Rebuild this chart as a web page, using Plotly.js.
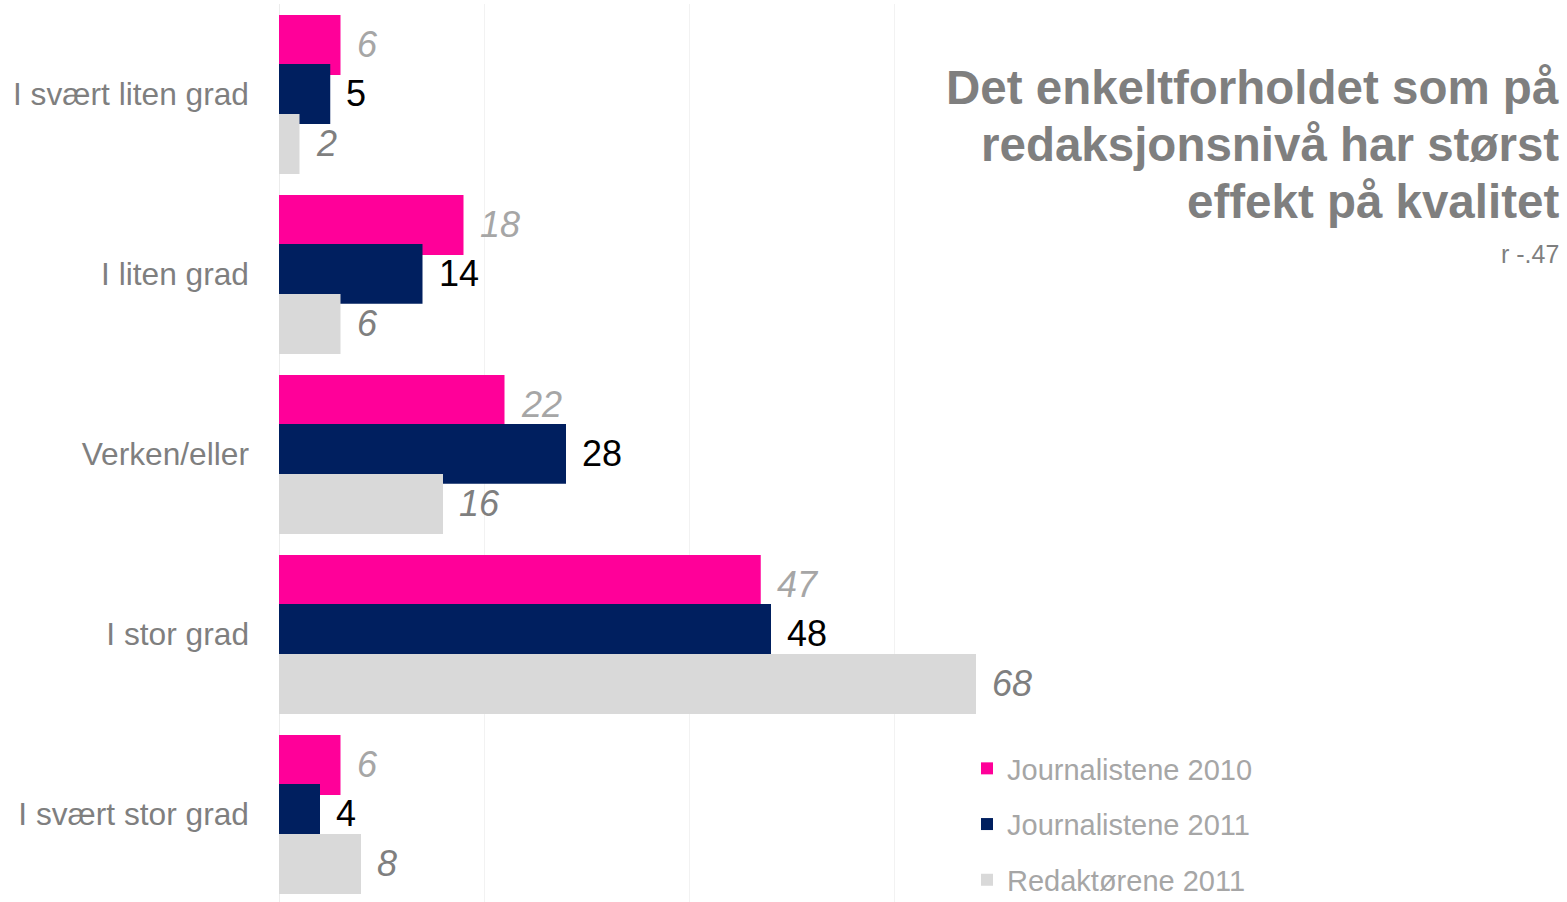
<!DOCTYPE html>
<html>
<head>
<meta charset="utf-8">
<script src="https://cdn.plot.ly/plotly-3.0.1.min.js"></script>
<style>
html,body{margin:0;padding:0;background:#fff;}
#chart{width:1567px;height:902px;}
</style>
</head>
<body>
<div id="chart"></div>
<script>
var categories = ["I svært liten grad", "I liten grad", "Verken/eller", "I stor grad", "I svært stor grad"];
var seriesNames = ["Journalistene 2010", "Journalistene 2011", "Redaktørene 2011"];
var journalister2010 = [6, 18, 22, 47, 6];
var journalister2011 = [5, 14, 28, 48, 4];
var redaktorer2011 = [2, 6, 16, 68, 8];
var titleLines = ["Det enkeltforholdet som på", "redaksjonsnivå har størst", "effekt på kvalitet"];
var subText = "r -.47";

var FONT = "Liberation Sans, Arial, sans-serif";
var seriesValues = [journalister2010, journalister2011, redaktorer2011];
var colors = ["#ff0099", "#001f5f", "#d9d9d9"];
var barWidth = 0.333;
var offsets = [-0.439, -0.167, 0.111];
var labelStyles = [
  {color: "#a6a6a6", style: "italic"},
  {color: "#000000", style: "normal"},
  {color: "#7f7f7f", style: "italic"}
];

var plotTop = 4, plotH = 898, plotL = 279, plotW = 820;
function py(px){ return 1 - (px - plotTop) / plotH; }
function pxX(px){ return (px - plotL) / plotW; }

var catIdx = categories.map(function(_, i){ return i; });
var traces = [];
var annotations = [];
seriesValues.forEach(function(vals, s){
  traces.push({
    type: "bar",
    orientation: "h",
    name: seriesNames[s],
    x: vals,
    y: catIdx,
    width: catIdx.map(function(){ return barWidth; }),
    offset: catIdx.map(function(){ return offsets[s]; }),
    marker: {color: colors[s], line: {width: 0}},
    legendgroup: "g" + s,
    hoverinfo: "x+name"
  });
  vals.forEach(function(v, i){
    annotations.push({
      xref: "x", yref: "y",
      x: v, y: i + offsets[s] + barWidth / 2,
      text: String(v),
      showarrow: false,
      xanchor: "left", yanchor: "middle",
      xshift: 14,
      font: {family: FONT, size: 36, color: labelStyles[s].color, style: labelStyles[s].style}
    });
  });
});

var titleCenters = [87, 144, 201];
titleLines.forEach(function(t, k){
  annotations.push({
    xref: "paper", yref: "paper",
    x: pxX(1561), y: py(titleCenters[k]),
    text: t, showarrow: false,
    xanchor: "right", yanchor: "middle",
    font: {family: FONT, size: 47.5, color: "#7f7f7f", weight: "bold"}
  });
});

annotations.push({
  xref: "paper", yref: "paper",
  x: pxX(1561), y: py(254),
  text: subText, showarrow: false,
  xanchor: "right", yanchor: "middle",
  font: {family: FONT, size: 25, color: "#7f7f7f"}
});

var layout = {
  width: 1567, height: 902,
  margin: {l: 279, r: 468, t: 4, b: 0, pad: 0, autoexpand: false},
  paper_bgcolor: "#ffffff",
  plot_bgcolor: "#ffffff",
  barmode: "group",
  font: {family: FONT},
  xaxis: {
    range: [0, 80],
    dtick: 20,
    showticklabels: false,
    showgrid: true,
    gridcolor: "#f2f2f2",
    gridwidth: 1,
    zeroline: true,
    zerolinecolor: "#ececec",
    zerolinewidth: 1,
    showline: false,
    fixedrange: true
  },
  yaxis: {
    type: "linear",
    range: [4.489, -0.5],
    tickmode: "array",
    tickvals: catIdx,
    ticktext: categories,
    showgrid: false,
    zeroline: false,
    showline: false,
    ticks: "",
    ticklabelstandoff: 29,
    tickfont: {family: FONT, size: 31.7, color: "#7f7f7f"},
    fixedrange: true
  },
  showlegend: true,
  legend: {
    x: pxX(967), xanchor: "left",
    y: py(743), yanchor: "top",
    traceorder: "grouped",
    tracegroupgap: 15,
    itemwidth: 30,
    font: {family: FONT, size: 29, color: "#a6a6a6"},
    bgcolor: "rgba(0,0,0,0)",
    borderwidth: 0
  },
  annotations: annotations
};

Plotly.newPlot("chart", traces, layout, {displayModeBar: false, responsive: false});
</script>
</body>
</html>
